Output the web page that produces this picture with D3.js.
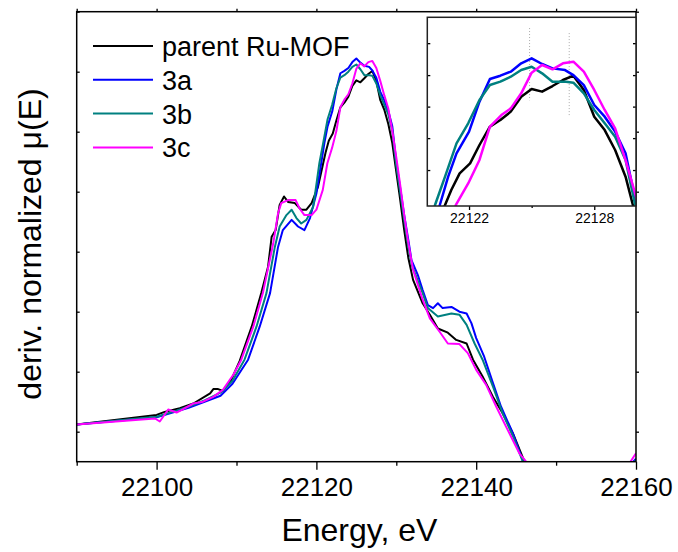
<!DOCTYPE html>
<html>
<head>
<meta charset="utf-8">
<script src="https://cdnjs.cloudflare.com/ajax/libs/d3/7.8.5/d3.min.js"></script>
<style>
  body { margin: 0; background: #fff; }
  svg { font-family: "Liberation Sans", Arial, sans-serif; }
</style>
</head>
<body>
<div id="canvas"></div>
<script>
// series: [energy in eV, deriv. normalized mu(E) in arbitrary units]
var parentRuMOF = [[22090,0.12],[22100,0.28],[22101,0.33],[22102.9,0.39],[22104.6,0.47],[22106.7,0.64],[22107.1,0.71],[22107.7,0.71],
  [22108.3,0.68],[22109.3,0.85],[22110.4,1.18],[22111.9,1.75],[22113.1,2.31],[22113.95,2.75],[22114.4,3.25],[22114.9,3.36],
  [22115.4,3.78],[22115.95,3.92],[22116.45,3.83],[22117.3,3.81],[22118.1,3.70],[22118.75,3.70],[22119.4,3.81],[22120.2,4.08],
  [22120.85,4.474],[22121.15,4.652],[22121.55,4.851],[22122.05,4.97],[22122.5,5.188],[22123,5.406],[22123.5,5.485],[22124,5.585],
  [22124.5,5.763],[22125,5.855],[22125.5,5.823],[22126,5.89],[22126.5,5.962],[22127,6.013],[22127.5,5.843],[22128,5.525],
  [22128.5,5.366],[22129,5.128],[22129.5,4.811],[22129.85,4.474],[22130.4,3.95],[22131,3.35],[22131.5,2.9],[22132.1,2.53],
  [22133.3,2.14],[22134.2,1.95],[22135.2,1.72],[22136.45,1.65],[22137.5,1.53],[22138.8,1.47],[22139.6,1.20],[22140.8,0.92],
  [22142.1,0.58],[22143.3,0.31],[22144.6,-0.03],[22145.8,-0.42],[22147,-0.8],[22152,-1.1],[22157,-0.9],[22160,-0.6]];

var sample3a = [[22090,0.12],[22100,0.24],[22102,0.32],[22104,0.40],[22106,0.50],[22108,0.60],[22109.5,0.80],[22111.45,1.20],
  [22112.9,1.75],[22114.2,2.31],[22115.2,3.08],[22115.8,3.36],[22116.9,3.53],[22117.7,3.42],[22118.5,3.36],[22119.2,3.56],
  [22120,3.97],[22120.6,4.474],[22121,4.811],[22121.4,5.089],[22122,5.347],[22122.5,5.704],[22123,5.974],[22123.5,6.013],
  [22124,6.061],[22124.5,6.16],[22125,6.22],[22125.5,6.152],[22126,6.10],[22126.6,6.08],[22127,6.02],[22127.5,5.90],
  [22128,5.664],[22128.5,5.525],[22129,5.347],[22129.5,5.089],[22130,4.494],[22130.5,4.05],[22131,3.6],[22131.5,3.2],
  [22131.9,2.86],[22132.7,2.61],[22133.3,2.36],[22133.95,2.11],[22134.6,2.06],[22135.2,2.14],[22135.8,2.06],[22136.9,2.08],
  [22137.9,2.0],[22138.8,1.97],[22139.4,1.81],[22140,1.56],[22141,1.25],[22142.1,0.81],[22143.1,0.42],[22144.6,-0.03],
  [22145.8,-0.47],[22147,-0.85],[22152,-1.1],[22157,-0.9],[22160,-0.45]];

var sample3b = [[22090,0.12],[22100,0.25],[22102,0.33],[22104,0.42],[22106,0.52],[22108,0.65],[22109.5,0.85],[22111,1.20],
  [22112.5,1.75],[22113.75,2.31],[22114.8,3.08],[22115.4,3.42],[22116.25,3.61],[22116.9,3.70],[22117.5,3.56],[22118.1,3.47],
  [22118.75,3.53],[22119.6,3.75],[22120,4.12],[22120.37,4.474],[22120.85,4.811],[22121.4,5.208],[22121.96,5.446],[22122.5,5.724],
  [22123,5.902],[22123.5,5.942],[22124,6.001],[22124.5,6.081],[22125,6.12],[22125.5,6.041],[22126,5.942],[22126.65,5.942],
  [22127,5.93],[22127.5,5.803],[22128,5.605],[22128.5,5.446],[22129,5.287],[22129.5,5.009],[22129.96,4.474],[22130.5,3.98],
  [22131,3.52],[22131.5,3.08],[22132,2.75],[22133.3,2.31],[22133.95,2.06],[22135.2,1.92],[22136.9,1.97],[22137.9,1.95],
  [22138.8,1.78],[22139.8,1.47],[22140.8,1.20],[22142.1,0.75],[22143.3,0.31],[22144.6,-0.08],[22145.75,-0.47],[22147,-0.85],
  [22152,-1.1],[22157,-0.9],[22160,-0.48]];

var sample3c = [[22090,0.12],[22099.8,0.22],[22100.4,0.17],[22101.45,0.37],[22102.5,0.32],[22103.1,0.36],[22104.6,0.47],
  [22105.8,0.50],[22107.1,0.58],[22108.3,0.70],[22109.6,0.95],[22110.6,1.20],[22112.1,1.75],[22113.3,2.31],[22114.6,3.14],
  [22115.2,3.64],[22115.6,3.81],[22116.45,3.86],[22117.4,3.86],[22117.9,3.72],[22118.5,3.61],[22119.4,3.61],[22120,3.70],
  [22120.8,4.03],[22121.37,4.474],[22121.96,4.73],[22122.5,5.01],[22123,5.406],[22123.55,5.545],[22124,5.624],[22124.5,5.803],
  [22125,6.049],[22125.5,6.14],[22126,6.089],[22126.5,6.16],[22127,6.18],[22127.5,6.061],[22128,5.843],[22128.5,5.605],
  [22129,5.386],[22129.5,5.009],[22130,4.573],[22130.5,4.1],[22131,3.6],[22131.5,3.15],[22132.1,2.70],[22133.3,2.20],
  [22134.2,1.89],[22135.4,1.67],[22136.45,1.47],[22137.9,1.46],[22138.95,1.31],[22140,1.03],[22141.25,0.78],[22142.5,0.42],
  [22143.75,0.08],[22145.4,-0.36],[22146.2,-0.49],[22148,-0.95],[22152,-1.1],[22156,-0.85],[22159.3,-0.5],[22160,-0.36]];

var seriesNames = ["parent Ru-MOF", "3a", "3b", "3c"];
var seriesColors = ["#000000", "#0000ff", "#008080", "#ff00ff"];
var seriesData = [parentRuMOF, sample3a, sample3b, sample3c];

var xMajorTicks = [22100, 22120, 22140, 22160];
var xMinorTicks = [22090, 22110, 22130, 22150];
var yTicks = [0, 1, 2, 3, 4, 5, 6, 7];

var insetXTicks = [22122, 22128];
var insetXMinor = [22125];
var insetYTicks = [4.89, 5.27, 5.645, 6.02, 6.4];
// dotted markers in the inset: [energy, low, high]
var insetMarkers = [[22124.9, 5.72, 6.58], [22126.8, 5.53, 6.52]];

var width = 678, height = 552;
var plot = {left: 76.7, right: 636, top: 11.7, bottom: 461.7};
var ins = {left: 427.3, right: 636, top: 17.3, bottom: 206};

var svg = d3.select("#canvas").append("svg")
  .attr("width", width).attr("height", height);

var x = d3.scaleLinear().domain([22090, 22160]).range([plot.left, plot.right]);
var y = d3.scaleLinear().domain([-0.5, 7]).range([plot.bottom, plot.top]);

svg.append("clipPath").attr("id", "mainClip").append("rect")
  .attr("x", plot.left).attr("y", plot.top)
  .attr("width", plot.right - plot.left).attr("height", plot.bottom - plot.top);

var line = d3.line().x(function(d) { return x(d[0]); }).y(function(d) { return y(d[1]); });

// main curves
svg.append("g").attr("clip-path", "url(#mainClip)")
  .selectAll("path").data(seriesData).enter().append("path")
  .attr("d", line)
  .attr("fill", "none")
  .attr("stroke", function(d, i) { return seriesColors[i]; })
  .attr("stroke-width", 2)
  .attr("stroke-linejoin", "round");

// axes
function styleAxis(g) {
  g.select(".domain").remove();
  g.selectAll(".tick line").attr("stroke", "#000").attr("stroke-width", 1.3);
}

svg.append("g")
  .attr("transform", "translate(0," + plot.bottom + ")")
  .call(d3.axisBottom(x).tickValues(xMajorTicks).tickSize(8).tickPadding(8).tickFormat(d3.format("d")))
  .call(styleAxis)
  .selectAll("text").attr("font-size", 26).attr("fill", "#000")
  .attr("font-family", "Liberation Sans, Arial, sans-serif");

svg.append("g")
  .attr("transform", "translate(0," + plot.bottom + ")")
  .call(d3.axisBottom(x).tickValues(xMinorTicks).tickSize(4).tickFormat(""))
  .call(styleAxis);

svg.append("g")
  .attr("transform", "translate(0," + plot.top + ")")
  .call(d3.axisTop(x).tickValues(xMajorTicks.concat(xMinorTicks)).tickSize(3).tickFormat(""))
  .call(styleAxis);

svg.append("g")
  .attr("transform", "translate(" + plot.left + ",0)")
  .call(d3.axisLeft(y).tickValues(yTicks).tickSize(-3).tickFormat(""))
  .call(styleAxis);

svg.append("g")
  .attr("transform", "translate(" + plot.right + ",0)")
  .call(d3.axisRight(y).tickValues(yTicks).tickSize(3).tickFormat(""))
  .call(styleAxis);

svg.append("rect")
  .attr("x", plot.left).attr("y", plot.top)
  .attr("width", plot.right - plot.left).attr("height", plot.bottom - plot.top)
  .attr("fill", "none").attr("stroke", "#000").attr("stroke-width", 1.5);

// axis titles
svg.append("text").text("Energy, eV")
  .attr("x", (plot.left + plot.right) / 2 + 3).attr("y", 541)
  .attr("text-anchor", "middle").attr("font-size", 32);

svg.append("text").text("deriv. normalized \u03bc(E)")
  .attr("transform", "translate(41," + 244 + ") rotate(-90)")
  .attr("text-anchor", "middle").attr("font-size", 32);

// legend
var legend = svg.append("g").selectAll("g").data(seriesNames).enter().append("g")
  .attr("transform", function(d, i) { return "translate(0," + (56 + i * 33.8) + ")"; });
legend.append("line")
  .attr("x1", 93).attr("x2", 153).attr("y1", -10).attr("y2", -10)
  .attr("stroke", function(d, i) { return seriesColors[i]; }).attr("stroke-width", 2);
legend.append("text").text(function(d) { return d; })
  .attr("x", 162).attr("y", 0).attr("font-size", 27);

// inset zoom of the peak
var xi = d3.scaleLinear().domain([22120, 22130]).range([ins.left, ins.right]);
var yi = d3.scaleLinear().domain([4.462, 6.708]).range([ins.bottom, ins.top]);

svg.append("rect")
  .attr("x", ins.left).attr("y", ins.top)
  .attr("width", ins.right - ins.left).attr("height", ins.bottom - ins.top)
  .attr("fill", "#fff");

svg.append("clipPath").attr("id", "insetClip").append("rect")
  .attr("x", ins.left).attr("y", ins.top)
  .attr("width", ins.right - ins.left).attr("height", ins.bottom - ins.top);

var insetG = svg.append("g").attr("clip-path", "url(#insetClip)");

insetG.selectAll("line.marker").data(insetMarkers).enter().append("line")
  .attr("class", "marker")
  .attr("x1", function(d) { return xi(d[0]); }).attr("x2", function(d) { return xi(d[0]); })
  .attr("y1", function(d) { return yi(d[2]); }).attr("y2", function(d) { return yi(d[1]); })
  .attr("stroke", "#aaa").attr("stroke-width", 1).attr("stroke-dasharray", "1,2");

var insetLine = d3.line().x(function(d) { return xi(d[0]); }).y(function(d) { return yi(d[1]); });

insetG.selectAll("path").data(seriesData).enter().append("path")
  .attr("d", insetLine)
  .attr("fill", "none")
  .attr("stroke", function(d, i) { return seriesColors[i]; })
  .attr("stroke-width", 2.5)
  .attr("stroke-linejoin", "round");

svg.append("g")
  .attr("transform", "translate(0," + ins.bottom + ")")
  .call(d3.axisBottom(xi).tickValues(insetXTicks).tickSize(4).tickPadding(3).tickFormat(d3.format("d")))
  .call(styleAxis)
  .selectAll("text").attr("font-size", 14).attr("fill", "#000")
  .attr("font-family", "Liberation Sans, Arial, sans-serif");

svg.append("g")
  .attr("transform", "translate(0," + ins.bottom + ")")
  .call(d3.axisBottom(xi).tickValues(insetXMinor).tickSize(2).tickFormat(""))
  .call(styleAxis);

svg.append("g")
  .attr("transform", "translate(" + ins.left + ",0)")
  .call(d3.axisLeft(yi).tickValues(insetYTicks).tickSize(-3).tickFormat(""))
  .call(styleAxis);

svg.append("g")
  .attr("transform", "translate(" + ins.right + ",0)")
  .call(d3.axisRight(yi).tickValues(insetYTicks).tickSize(-3).tickFormat(""))
  .call(styleAxis);

svg.append("rect")
  .attr("x", ins.left).attr("y", ins.top)
  .attr("width", ins.right - ins.left).attr("height", ins.bottom - ins.top)
  .attr("fill", "none").attr("stroke", "#222").attr("stroke-width", 1.5);
</script>
</body>
</html>
